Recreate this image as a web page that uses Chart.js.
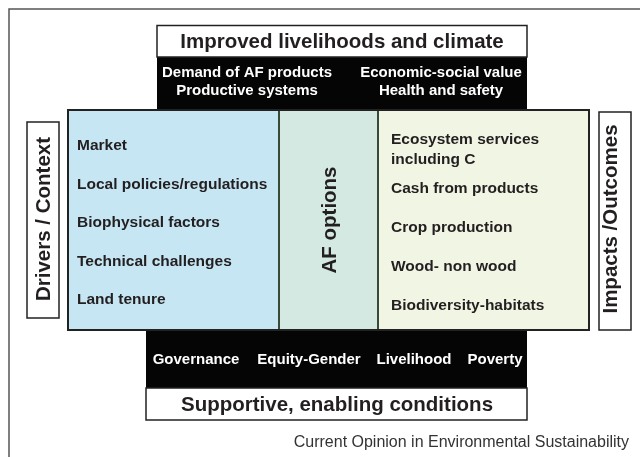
<!DOCTYPE html>
<html>
<head>
<meta charset="utf-8">
<script src="https://cdn.jsdelivr.net/npm/chart.js@4"></script>
<style>
  html, body { margin: 0; padding: 0; background: #fff; }
  canvas { display: block; }
</style>
</head>
<body>
<canvas id="diagram" width="640" height="457"></canvas>
<script>
// diagram content
const headerTitle = 'Improved livelihoods and climate';
const footerTitle = 'Supportive, enabling conditions';
const demandLines = ['Demand of AF products', 'Productive systems'];
const valueLines = ['Economic-social value', 'Health and safety'];
const conditionLabels = ['Governance', 'Equity-Gender', 'Livelihood', 'Poverty'];
const driverItems = ['Market', 'Local policies/regulations', 'Biophysical factors', 'Technical challenges', 'Land tenure'];
const outcomeItems = [['Ecosystem services', 'including C'], ['Cash from products'], ['Crop production'], ['Wood- non wood'], ['Biodiversity-habitats']];
const sideLabels = ['Drivers / Context', 'AF options', 'Impacts /Outcomes'];
const sourceNote = 'Current Opinion in Environmental Sustainability';

// layout (in scale units, which match the 640x457 picture)
const FONT = "'Liberation Sans', Arial, Helvetica, sans-serif";
const INK = '#231f20';
const colBlue = '#c6e6f3', colGreen = '#d3e9e1', colCream = '#f1f5e4';
const conditionX = [196, 309, 414, 495];

const diagramPlugin = {
  id: 'diagram',
  afterDraw(chart) {
    const ctx = chart.ctx;
    const xs = chart.scales.x, ys = chart.scales.y;
    const X = v => xs.getPixelForValue(v);
    const Y = v => ys.getPixelForValue(v);

    function box(x0, y0, x1, y1, fill, stroke, lw) {
      ctx.beginPath();
      ctx.rect(X(x0), Y(y0), X(x1) - X(x0), Y(y1) - Y(y0));
      if (fill) { ctx.fillStyle = fill; ctx.fill(); }
      if (stroke) { ctx.strokeStyle = stroke; ctx.lineWidth = lw || 1.5; ctx.stroke(); }
    }
    function text(str, x, y, size, opts) {
      opts = opts || {};
      ctx.save();
      ctx.font = (opts.weight || 'bold') + ' ' + size + 'px ' + FONT;
      ctx.fillStyle = opts.color || INK;
      ctx.textAlign = opts.align || 'left';
      ctx.textBaseline = 'alphabetic';
      ctx.translate(X(x), Y(y));
      if (opts.rotate) ctx.rotate(-Math.PI / 2);
      ctx.fillText(str, 0, 0);
      ctx.restore();
    }

    ctx.save();
    // outer frame (runs off the right and bottom)
    box(9, 9, 650, 470, null, '#555', 1.5);

    // top block
    box(157, 57, 527, 111, '#050505');
    box(157, 25.5, 527, 57, '#fff', '#222', 1.5);
    text(headerTitle, 342, 48, 20.5, { align: 'center' });
    demandLines.forEach((t, i) => text(t, 247, 77 + i * 18, 15, { align: 'center', color: '#fff' }));
    valueLines.forEach((t, i) => text(t, 441, 77 + i * 18, 15, { align: 'center', color: '#fff' }));

    // bottom block
    box(146, 329, 527, 388, '#050505');
    box(146, 388, 527, 420, '#fff', '#222', 1.5);
    conditionLabels.forEach((t, i) => text(t, conditionX[i], 364, 15, { align: 'center', color: '#fff' }));
    text(footerTitle, 337, 411, 20.5, { align: 'center' });

    // central panels
    box(68, 110, 279, 330, colBlue);
    box(279, 110, 378, 330, colGreen);
    box(378, 110, 589, 330, colCream);
    ctx.beginPath();
    ctx.strokeStyle = '#3a4a3a'; ctx.lineWidth = 2;
    [279, 378].forEach(v => { ctx.moveTo(X(v), Y(110)); ctx.lineTo(X(v), Y(330)); });
    ctx.stroke();
    box(68, 110, 589, 330, null, '#222', 2);

    driverItems.forEach((t, i) => text(t, 77, 150 + i * 38.5, 15.5));
    let yy = 144;
    outcomeItems.forEach((lines, i) => {
      lines.forEach((t, j) => text(t, 391, 144 + i * 39 + (i > 0 ? 10 : 0) + j * 20, 15.5));
    });

    // side boxes
    box(27, 122, 59, 318, '#fff', '#222', 1.5);
    box(599, 112, 631, 330, '#fff', '#222', 1.5);
    text(sideLabels[0], 50, 219, 20.5, { align: 'center', rotate: true });
    text(sideLabels[1], 336, 220, 20.5, { align: 'center', rotate: true });
    text(sideLabels[2], 617, 219, 20.5, { align: 'center', rotate: true });

    text(sourceNote, 629, 447, 16, { align: 'right', weight: 'normal', color: '#333' });
    ctx.restore();
  }
};

new Chart(document.getElementById('diagram'), {
  type: 'scatter',
  data: { datasets: [{ data: [], pointRadius: 0 }] },
  options: {
    responsive: false,
    animation: false,
    layout: { padding: 0 },
    plugins: { legend: { display: false }, tooltip: { enabled: false } },
    scales: {
      x: { type: 'linear', min: 0, max: 640, display: false },
      y: { type: 'linear', min: 0, max: 457, reverse: true, display: false }
    }
  },
  plugins: [diagramPlugin]
});
</script>
</body>
</html>
